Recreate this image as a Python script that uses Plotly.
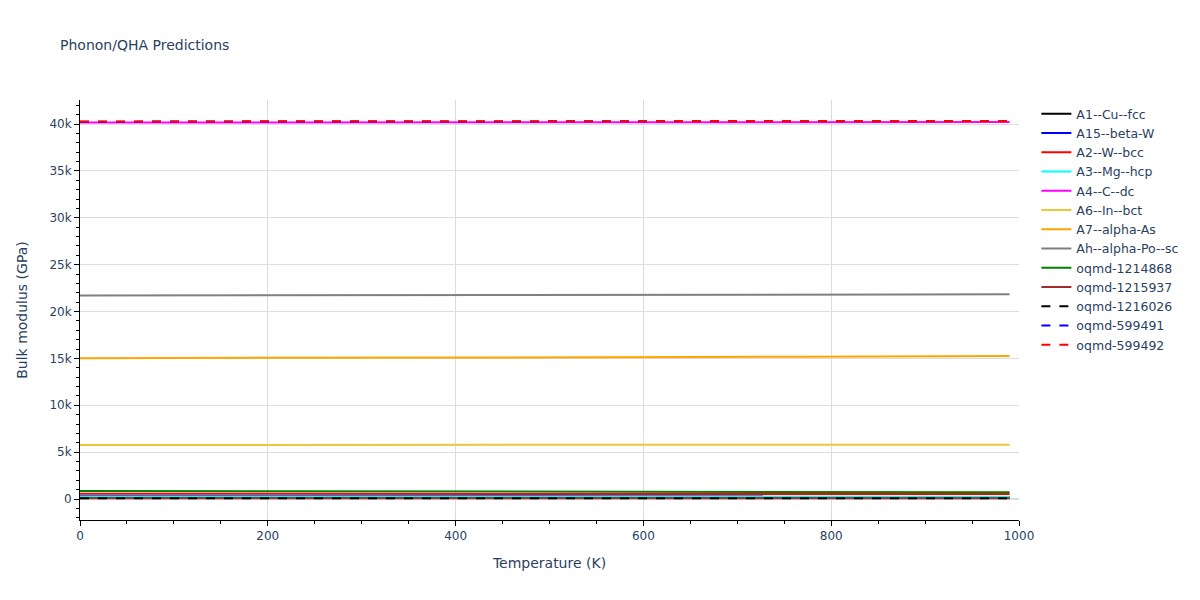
import plotly.graph_objects as go

temperature = [0, 110, 220, 330, 440, 550, 660, 770, 880, 990]

a1_cu_fcc = [140, 140, 139, 139, 138, 138, 137, 137, 136, 136]
a15_beta_w = [310, 310, 309, 309, 308, 308, 307, 306, 305, 305]
a2_w_bcc = [560, 560, 558, 555, 552, 548, 544, 540, 535, 530]
a3_mg_hcp = [270, 270, 268, 266, 263, 260, 257, 254, 250, 247]
a4_c_dc = [40160, 40160, 40160, 40165, 40170, 40175, 40180, 40190, 40200, 40210]
a6_in_bct = [5760, 5760, 5765, 5770, 5775, 5780, 5785, 5790, 5795, 5800]
a7_alpha_as = [15020, 15030, 15045, 15065, 15090, 15115, 15145, 15180, 15220, 15260]
ah_alpha_po_sc = [21700, 21705, 21715, 21725, 21740, 21755, 21770, 21790, 21810, 21830]
oqmd_1214868 = [860, 850, 838, 825, 810, 795, 780, 760, 740, 720]
oqmd_1215937 = [80, 80, 80, 80, 80, 80, 80, 80, 80, 80]
oqmd_1216026 = [70, 70, 70, 70, 70, 70, 70, 70, 70, 70]
oqmd_599491 = [40250, 40250, 40255, 40260, 40265, 40270, 40280, 40290, 40300, 40310]
oqmd_599492 = [40270, 40270, 40275, 40280, 40285, 40290, 40300, 40310, 40320, 40330]

series = [
    ("A1--Cu--fcc", a1_cu_fcc, "black", "solid"),
    ("A15--beta-W", a15_beta_w, "blue", "solid"),
    ("A2--W--bcc", a2_w_bcc, "red", "solid"),
    ("A3--Mg--hcp", a3_mg_hcp, "cyan", "solid"),
    ("A4--C--dc", a4_c_dc, "magenta", "solid"),
    ("A6--In--bct", a6_in_bct, "#EFC53A", "solid"),
    ("A7--alpha-As", a7_alpha_as, "orange", "solid"),
    ("Ah--alpha-Po--sc", ah_alpha_po_sc, "gray", "solid"),
    ("oqmd-1214868", oqmd_1214868, "green", "solid"),
    ("oqmd-1215937", oqmd_1215937, "brown", "solid"),
    ("oqmd-1216026", oqmd_1216026, "black", "dash"),
    ("oqmd-599491", oqmd_599491, "blue", "dash"),
    ("oqmd-599492", oqmd_599492, "red", "dash"),
]

fig = go.Figure()
for name, vals, color, dash in series:
    fig.add_trace(go.Scatter(x=temperature, y=vals, mode="lines", name=name,
                             line=dict(color=color, dash=dash, width=2)))

axis_common = dict(
    showline=True, linecolor="black", linewidth=1,
    ticks="outside", tickcolor="black",
    minor=dict(ticks="outside", tickcolor="black", showgrid=False),
    gridcolor="#dddddd", zeroline=True, zerolinecolor="#dddddd", zerolinewidth=2,
)

fig.update_layout(
    template="plotly_white",
    width=1200, height=600,
    font=dict(family="DejaVu Sans", size=12),
    title=dict(text="Phonon/QHA Predictions", x=52 / 1200, y=0.939, yanchor="middle",
               font=dict(size=14)),
    margin=dict(l=72, r=189, t=92, b=88),
    xaxis=dict(title="Temperature (K)", range=[0, 1000], dtick=200, **axis_common),
    yaxis=dict(title=dict(text="Bulk modulus (GPa)", standoff=18), range=[-2240, 42560],
               dtick=5000, **axis_common),
    legend=dict(x=1.0185, y=1.002, font=dict(size=12.5)),
)
fig.update_xaxes(minor=dict(dtick=50))
fig.update_yaxes(minor=dict(dtick=1000))

fig.write_html("out.html")
